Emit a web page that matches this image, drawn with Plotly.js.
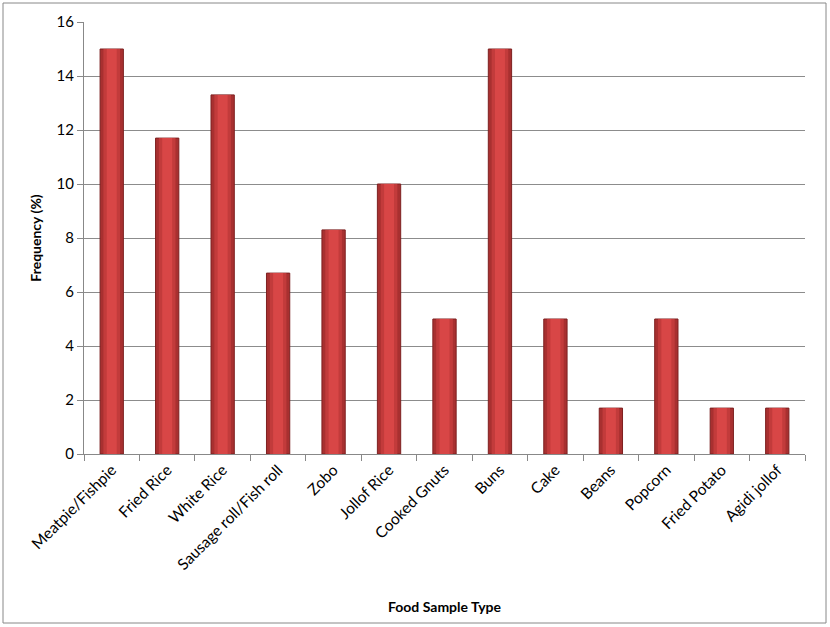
<!DOCTYPE html>
<html>
<head>
<meta charset="utf-8">
<script src="https://cdn.plot.ly/plotly-3.0.1.min.js"></script>
<style>
html,body{margin:0;padding:0;background:#fff;}
#chart{width:830px;height:627px;}
</style>
</head>
<body>
<div id="chart"></div>
<script>
const categories = ["Meatpie/Fishpie","Fried Rice","White Rice","Sausage roll/Fish roll","Zobo","Jollof Rice","Cooked Gnuts","Buns","Cake","Beans","Popcorn","Fried Potato","Agidi jollof"];
const frequency = [15, 11.7, 13.3, 6.7, 8.3, 10, 5, 15, 5, 1.7, 5, 1.7, 1.7];
const yTicks = [0, 2, 4, 6, 8, 10, 12, 14, 16];

const fontFam = "Lato, 'Open Sans', sans-serif";

const traces = [
  {type:"bar", x:categories, y:frequency, width:0.42,
   marker:{color:"#a83030", line:{color:"#7d2020", width:1}}, hoverinfo:"x+y"},
  {type:"bar", x:categories, y:frequency, width:0.30,
   marker:{color:"#c23b3b", line:{width:0}}, hoverinfo:"skip"},
  {type:"bar", x:categories, y:frequency, width:0.18,
   marker:{color:"#d84646", line:{width:0}}, hoverinfo:"skip"}
];

const layout = {
  width:830, height:627,
  margin:{l:84, r:25, t:22, b:173},
  paper_bgcolor:"#fff", plot_bgcolor:"#fff",
  barmode:"overlay",
  showlegend:false,
  font:{family:fontFam, color:"#000", size:15},
  xaxis:{
    type:"category",
    tickangle:-45,
    tickson:"boundaries",
    ticks:"outside", ticklen:6, tickcolor:"#888",
    showline:true, linecolor:"#888", linewidth:1,
    showgrid:false,
    automargin:false,
    tickfont:{size:15.5, family:fontFam},
    title:{text:"<b>Food Sample Type</b>", font:{size:14, family:fontFam}, standoff:30}
  },
  yaxis:{
    range:[0,16],
    tickvals:yTicks,
    ticks:"outside", ticklen:6, tickcolor:"#888",
    showline:true, linecolor:"#888", linewidth:1,
    showgrid:true, gridcolor:"#8c8c8c", gridwidth:1,
    zeroline:false,
    automargin:false,
    tickfont:{size:15, family:fontFam},
    title:{text:"<b>Frequency (%)</b>", font:{size:14, family:fontFam}, standoff:11}
  },
  shapes:[{
    type:"rect", xref:"paper", yref:"paper",
    x0:(3-84)/721, x1:(826-84)/721, y0:(454-623)/432, y1:(454-3)/432,
    line:{color:"#888", width:1}, fillcolor:"rgba(0,0,0,0)"
  }]
};

Plotly.newPlot("chart", traces, layout, {displayModeBar:false, staticPlot:true});
</script>
</body>
</html>
